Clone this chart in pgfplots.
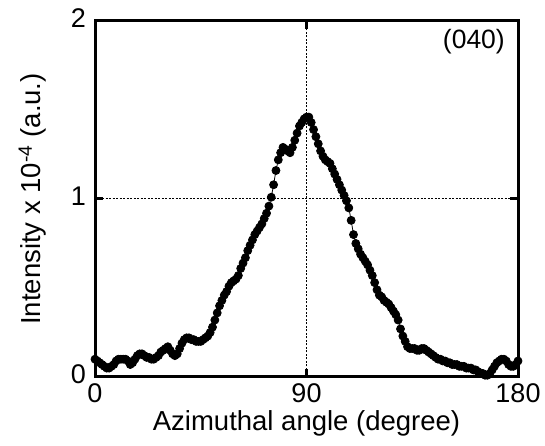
\documentclass[border=0pt]{standalone}
\usepackage{fontspec}
\setmainfont{Liberation Sans}
\usepackage{pgfplots}
\pgfplotsset{compat=1.18}
\begin{document}
\begin{tikzpicture}
\begin{axis}[
  scale only axis,
  width=423pt, height=356pt,
  xmin=0, xmax=180, ymin=0, ymax=2,
  xtick={0,90,180}, ytick={0,1,2},
  tick align=inside,
  major tick length=8pt,
  axis line style={line width=3pt},
  every tick/.style={line width=3pt, black},
  grid=major,
  major grid style={line width=1pt, black, dash pattern=on 2pt off 1.5pt},
  /pgf/number format/assume math mode=true,
  tick label style={font=\fontsize{27}{30}\selectfont, inner sep=0pt},
  xticklabel style={yshift=-6pt},
  yticklabel style={xshift=-9pt, yshift=3pt},
  xlabel={Azimuthal angle (degree)},
  ylabel={Intensity x 10\textsuperscript{-4} (a.u.)},
  every axis x label/.style={at={(axis description cs:0.5,0)}, anchor=base, yshift=-53pt, font=\fontsize{27.5}{30}\selectfont, inner sep=0pt},
  every axis y label/.style={at={(axis description cs:0,0.5)}, rotate=90, anchor=base, yshift=54pt, font=\fontsize{27.5}{30}\selectfont, inner sep=0pt},
  clip=false,
]
\addplot[black, line width=0.8pt, mark=*, mark size=4pt, mark options={solid, fill=black}] coordinates {
(0,0.10)(1,0.09)(2,0.08)(3,0.07)(4,0.06)(5,0.05)(6,0.05)(7,0.06)(8,0.07)(9,0.09)
(10,0.10)(11,0.10)(12,0.10)(13,0.10)(14,0.09)(15,0.07)(16,0.08)(17,0.10)(18,0.12)(19,0.13)
(20,0.13)(21,0.12)(22,0.11)(23,0.11)(24,0.10)(25,0.10)(26,0.11)(27,0.12)(28,0.14)(29,0.15)
(30,0.16)(31,0.17)(32,0.15)(33,0.13)(34,0.12)(35,0.13)(36,0.16)(37,0.19)(38,0.21)(39,0.22)
(40,0.22)(41,0.21)(42,0.21)(43,0.20)(44,0.20)(45,0.20)(46,0.21)(47,0.22)(48,0.23)(49,0.25)
(50,0.28)(51,0.32)(52,0.36)(53,0.40)(54,0.43)(55,0.46)(56,0.48)(57,0.51)(58,0.53)(59,0.54)
(60,0.55)(61,0.57)(62,0.61)(63,0.64)(64,0.67)(65,0.71)(66,0.74)(67,0.77)(68,0.80)(69,0.82)
(70,0.84)(71,0.86)(72,0.89)(73,0.92)(74,0.96)(75,1.01)(76,1.08)(77,1.16)(78,1.22)(79,1.26)
(80,1.29)(81,1.28)(82,1.27)(83,1.26)(84,1.29)(85,1.33)(86,1.37)(87,1.41)(88,1.43)(89,1.45)
(90,1.46)(91,1.46)(92,1.43)(93,1.39)(94,1.35)(95,1.31)(96,1.27)(97,1.24)(98,1.22)(99,1.21)
(100,1.20)(101,1.17)(102,1.14)(103,1.11)(104,1.08)(105,1.05)(106,1.02)(107,0.99)(108,0.95)(109,0.88)
(110,0.80)(111,0.75)(112,0.72)(113,0.69)(114,0.67)(115,0.65)(116,0.63)(117,0.60)(118,0.57)(119,0.53)
(120,0.49)(121,0.46)(122,0.45)(123,0.43)(124,0.42)(125,0.41)(126,0.39)(127,0.37)(128,0.35)(129,0.32)
(130,0.27)(131,0.23)(132,0.20)(133,0.17)(134,0.16)(135,0.16)(136,0.16)(137,0.15)(138,0.15)(139,0.16)
(140,0.16)(141,0.15)(142,0.14)(143,0.13)(144,0.12)(145,0.11)(146,0.10)(147,0.10)(148,0.09)(149,0.09)
(150,0.08)(151,0.08)(152,0.07)(153,0.07)(154,0.07)(155,0.06)(156,0.06)(157,0.06)(158,0.05)(159,0.05)
(160,0.05)(161,0.04)(162,0.04)(163,0.03)(164,0.02)(165,0.02)(166,0.01)(167,0.01)(168,0.02)(169,0.04)
(170,0.06)(171,0.08)(172,0.09)(173,0.10)(174,0.10)(175,0.09)(176,0.07)(177,0.06)(178,0.06)(179,0.07)
(180,0.09)
};
\node[anchor=east, inner sep=0pt, font=\fontsize{26.5}{30}\selectfont] at (axis description cs:1,0.942) [xshift=-13pt] {(040)};
\end{axis}
\pgfresetboundingbox
\path ([xshift=-95pt,yshift=-69pt]current axis.south west) rectangle ([xshift=27pt,yshift=21pt]current axis.north east);
\end{tikzpicture}
\end{document}
